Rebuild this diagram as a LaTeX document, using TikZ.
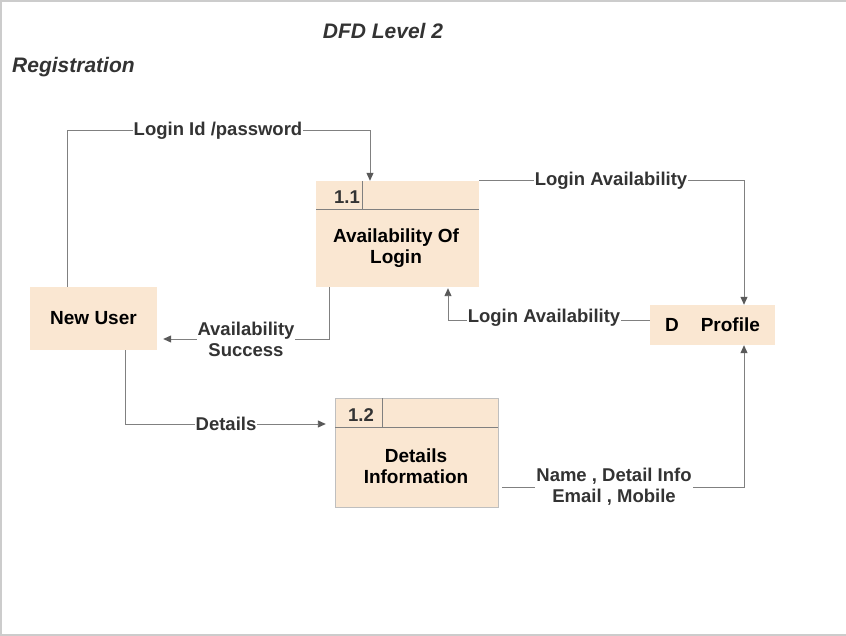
\documentclass[tikz,border=0pt]{standalone}
\usepackage{fontspec}
\setmainfont{Liberation Sans}
\usetikzlibrary{arrows.meta}
\definecolor{boxfill}{RGB}{250,231,210}
\definecolor{lineg}{RGB}{128,128,128}
\definecolor{txtg}{RGB}{51,51,51}
\begin{document}
\begin{tikzpicture}[x=1pt,y=-1pt]
\tikzstyle{every node}=[font=\fontsize{18.5}{21}\selectfont\bfseries, inner sep=0pt]
\tikzstyle{ent}=[fill=boxfill, minimum width=127, minimum height=63]
\tikzstyle{proc}=[fill=boxfill, minimum width=163, minimum height=106]
\tikzstyle{flow}=[draw=lineg, line width=0.9, arrows={-{Triangle[length=8pt,width=7pt,fill=black!65,color=black!65]}}]
\tikzstyle{lbl}=[fill=white, text=txtg, inner sep=1pt, align=center]
\tikzstyle{head}=[text=txtg, font=\fontsize{21}{24}\selectfont\bfseries\itshape]
	\useasboundingbox (0,0) rectangle (846,636);
	\draw[black!20, line width=1.5] (1,636) -- (1,1) -- (846,1);
	\draw[black!20, line width=1.5] (0,635) -- (846,635);
	\node[head] (title) at (383,31) {DFD Level 2};
	\node[head, anchor=west] (reg) at (12,67) {Registration};
	% entities and stores
	\node[ent, font=\fontsize{19}{21}\selectfont\bfseries] (user) at (93.5,318.5) {New User};
	\node[fill=boxfill, minimum width=125, minimum height=40, font=\fontsize{19}{21}\selectfont\bfseries] (prof) at (712.5,325) {D\hspace{22pt}Profile\hspace{6pt}};
	% process 1.1
	\node[proc] (p11) at (397.5,234) {};
	\draw[lineg] (316,209) -- (479,209);
	\draw[lineg] (362,181) -- (362,209);
	\node[text=txtg] (n11) at (347,197) {1.1};
	\node[align=center, font=\fontsize{19}{21}\selectfont\bfseries] (t11) at (396,248) {Availability Of\\Login};
	% process 1.2
	\node[proc, draw=black!25, minimum height=109] (p12) at (416.5,452.5) {};
	\draw[lineg] (335,427) -- (498,427);
	\draw[lineg] (382,398) -- (382,427);
	\node[text=txtg] (n12) at (361,415) {1.2};
	\node[align=center, font=\fontsize{19}{21}\selectfont\bfseries] (t12) at (416,466) {Details\\Information};
	% flows
	\draw[flow] ([xshift=-26.5]user.north) -- ++(0,-156) -| ([xshift=-27.5]p11.north);
	\draw[flow] (p11.north east) -| ([xshift=31.5]prof.north);
	\draw[flow, shorten >=1] ([yshift=5]prof.west) -| ([xshift=50.5]p11.south);
	\draw[flow, shorten >=6] ([xshift=-68.5]p11.south) |- ([yshift=-20.5]user.east);
	\draw[flow, shorten >=9] ([xshift=31.5]user.south) |- ([yshift=28.5]p12.west);
	\draw[flow, shorten <=4] ([yshift=-34.5]p12.east) -| ([xshift=31.5]prof.south);
	% flow labels
	\node[lbl] (l1) at (218,131) {Login Id /password};
	\node[lbl] (l2) at (611,181) {Login Availability};
	\node[lbl] (l3) at (544,318) {Login Availability};
	\node[lbl] (l4) at (246,339) {Availability\\Success};
	\node[lbl] (l5) at (226,424) {Details};
	\node[lbl] (l6) at (614,487) {Name , Detail Info\\Email , Mobile};
\end{tikzpicture}
\end{document}
